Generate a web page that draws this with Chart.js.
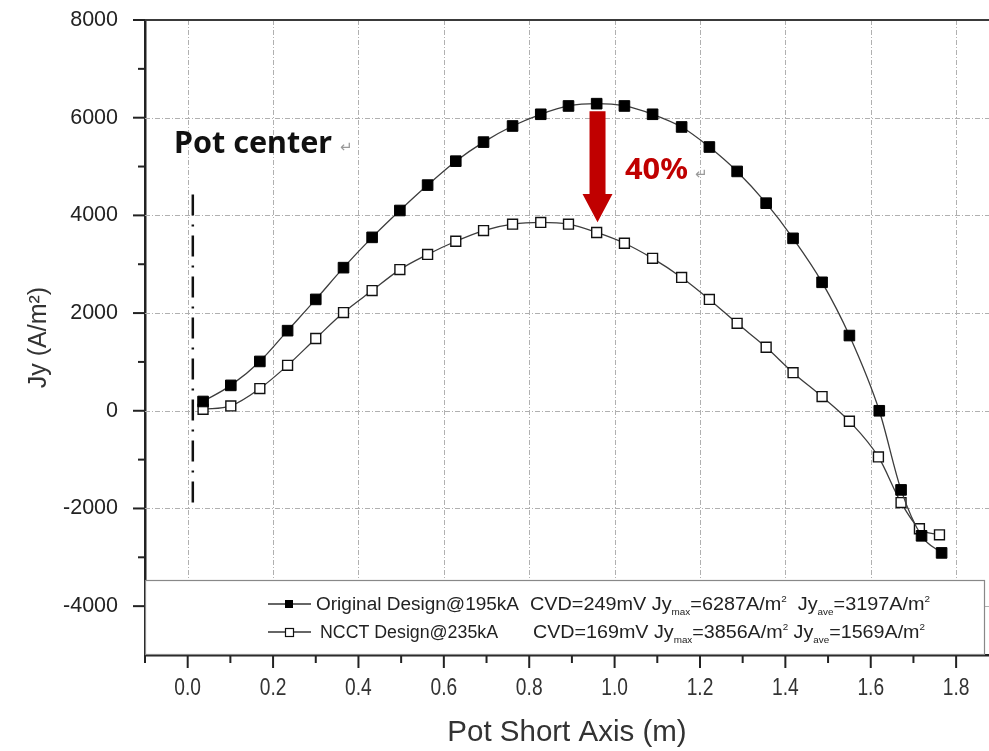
<!DOCTYPE html>
<html><head><meta charset="utf-8">
<script src="https://cdn.jsdelivr.net/npm/chart.js@4.4.1/dist/chart.umd.min.js"></script>
<style>html,body{margin:0;padding:0;background:#fff;overflow:hidden}#wrap{width:989px;height:751px;position:relative}</style>
</head><body><div id="wrap"><canvas id="c" width="989" height="751"></canvas></div>
<script>
// ---- data ----
const originalX  = [0.036,0.101,0.169,0.234,0.300,0.365,0.432,0.497,0.562,0.628,0.693,0.761,0.827,0.892,0.958,1.023,1.089,1.157,1.222,1.287,1.355,1.418,1.486,1.550,1.620,1.671,1.719,1.766];
const originalJy = [190,520,1010,1640,2280,2930,3550,4100,4620,5110,5500,5830,6070,6240,6287,6240,6070,5810,5400,4900,4250,3530,2630,1540,0,-1620,-2560,-2910];
const ncctX      = [0.036,0.101,0.169,0.234,0.300,0.365,0.432,0.497,0.562,0.628,0.693,0.761,0.827,0.892,0.958,1.023,1.089,1.157,1.222,1.287,1.355,1.418,1.486,1.550,1.618,1.671,1.714,1.761];
const ncctJy     = [30,100,455,930,1480,2010,2460,2890,3200,3470,3690,3820,3856,3820,3650,3430,3120,2730,2280,1790,1300,780,290,-215,-945,-1880,-2415,-2540];
const potCenterX  = [0.012,0.012];
const potCenterJy = [4430,-1880];
const arrowX = 0.96;
const arrowJy = [6130, 4440, 3860]; // shaft top, head start, tip
const xTickValues = [0,0.2,0.4,0.6,0.8,1.0,1.2,1.4,1.6,1.8];
const xTickLabels = ['0.0','0.2','0.4','0.6','0.8','1.0','1.2','1.4','1.6','1.8'];
const xMinorTickValues = [-0.1,0.1,0.3,0.5,0.7,0.9,1.1,1.3,1.5,1.7];
const yTickValues = [-4000,-2000,0,2000,4000,6000,8000];
const yMinorTickValues = [-3000,-1000,1000,3000,5000,7000];
const legendNames = ['Original Design@195kA','NCCT Design@235kA'];
const legendCVD   = ['CVD=249mV','CVD=169mV'];
const legendJyMax = ['6287','3856'];
const legendJyAve = ['3197','1569'];

const toPts = (xs, ys) => xs.map((x,i)=>({x:x,y:ys[i]}));

function fitText(ctx, text, x, y, targetW){
  const w = ctx.measureText(text).width;
  ctx.save(); ctx.translate(x,y); ctx.scale(targetW/w,1); ctx.fillText(text,0,0); ctx.restore();
}

const overlay = {
  id:'overlay',
  beforeDatasetsDraw(chart){
    const ctx = chart.ctx, a = chart.chartArea, xs = chart.scales.x, ys = chart.scales.y;
    ctx.save();
    ctx.strokeStyle = '#b0b0b0'; ctx.lineWidth = 1; ctx.setLineDash([5,2,1,2]);
    xTickValues.forEach(v=>{ const p=Math.round(xs.getPixelForValue(v))+0.5; ctx.beginPath(); ctx.moveTo(p,a.top); ctx.lineTo(p,a.bottom); ctx.stroke(); });
    yTickValues.forEach(v=>{ if(v>=ys.max) return; const p=Math.round(ys.getPixelForValue(v))+0.5; ctx.beginPath(); ctx.moveTo(a.left,p); ctx.lineTo(a.right,p); ctx.stroke(); });
    ctx.setLineDash([]);
    // top frame
    ctx.strokeStyle = '#3a3a3a'; ctx.lineWidth = 2;
    ctx.beginPath(); ctx.moveTo(a.left,a.top); ctx.lineTo(a.right,a.top); ctx.stroke();
    // tick marks
    ctx.strokeStyle = '#222'; ctx.lineWidth = 2;
    xTickValues.forEach(v=>{ const p=xs.getPixelForValue(v); ctx.beginPath(); ctx.moveTo(p,a.bottom); ctx.lineTo(p,a.bottom+13); ctx.stroke(); });
    xMinorTickValues.forEach(v=>{ const p=xs.getPixelForValue(v); ctx.beginPath(); ctx.moveTo(p,a.bottom); ctx.lineTo(p,a.bottom+8); ctx.stroke(); });
    yTickValues.forEach(v=>{ const p=ys.getPixelForValue(v); ctx.beginPath(); ctx.moveTo(a.left-12,p); ctx.lineTo(a.left,p); ctx.stroke(); });
    yMinorTickValues.forEach(v=>{ const p=ys.getPixelForValue(v); ctx.beginPath(); ctx.moveTo(a.left-7,p); ctx.lineTo(a.left,p); ctx.stroke(); });
    // x tick labels (narrow)
    ctx.fillStyle = '#333'; ctx.font = '24px "Liberation Sans", Arial, sans-serif';
    ctx.textBaseline = 'middle';
    xTickValues.forEach((v,i)=>{
      const p = xs.getPixelForValue(v); const w = ctx.measureText(xTickLabels[i]).width * 0.8;
      fitText(ctx, xTickLabels[i], p - w/2, a.bottom + 33, w);
    });
    ctx.restore();
  },
  afterDatasetsDraw(chart){
    const ctx = chart.ctx, a = chart.chartArea, xs = chart.scales.x, ys = chart.scales.y;
    ctx.save();
    // legend box
    const bx = a.left, by = 580, bw = 985 - a.left, bh = a.bottom - 580;
    ctx.fillStyle = '#fff'; ctx.fillRect(bx, by, bw, bh);
    ctx.strokeStyle = '#888'; ctx.lineWidth = 1.2; ctx.strokeRect(bx+0.5, by+0.5, bw-1, bh-1);
    const rows = [604, 632];
    const startA = [316, 320], startB = [530, 533], endB = [930, 925];
    rows.forEach((ry,i)=>{
      ctx.strokeStyle = '#333'; ctx.lineWidth = 1.3;
      ctx.beginPath(); ctx.moveTo(268, ry); ctx.lineTo(311, ry); ctx.stroke();
      if(i===0){ ctx.fillStyle='#000'; ctx.fillRect(285, ry-4, 8, 8); }
      else { ctx.fillStyle='#fff'; ctx.fillRect(285, ry-4, 8, 8); ctx.strokeStyle='#111'; ctx.lineWidth=1.2; ctx.strokeRect(285.5, ry-3.5, 8, 8); }
      ctx.fillStyle = '#222'; ctx.textBaseline = 'alphabetic';
      const big = '18px "Liberation Sans", Arial, sans-serif';
      const small = '9px "Liberation Sans", Arial, sans-serif';
      const base = ry + 6;
      ctx.font = big;
      fitText(ctx, legendNames[i], startA[i], base, (i===0?203:178));
      const segs = [
        {t: legendCVD[i] + ' Jy', f: big, dy: 0},
        {t: 'max', f: small, dy: 5},
        {t: '=' + legendJyMax[i] + 'A/m', f: big, dy: 0},
        {t: '2', f: small, dy: -8},
        {t: (i===0?'  Jy':' Jy'), f: big, dy: 0},
        {t: 'ave', f: small, dy: 5},
        {t: '=' + legendJyAve[i] + 'A/m', f: big, dy: 0},
        {t: '2', f: small, dy: -8}
      ];
      let tot = 0; segs.forEach(s=>{ ctx.font = s.f; s.w = ctx.measureText(s.t).width; tot += s.w; });
      const k = (endB[i] - startB[i]) / tot;
      ctx.save(); ctx.translate(startB[i], base); ctx.scale(k, 1);
      let cx = 0; segs.forEach(s=>{ ctx.font = s.f; ctx.fillText(s.t, cx, s.dy); cx += s.w; });
      ctx.restore();
    });
    // red arrow
    const ax = xs.getPixelForValue(arrowX);
    const yTop = ys.getPixelForValue(arrowJy[0]), yHead = ys.getPixelForValue(arrowJy[1]), yTip = ys.getPixelForValue(arrowJy[2]);
    ctx.fillStyle = '#c00000';
    ctx.beginPath();
    ctx.moveTo(ax-8, yTop); ctx.lineTo(ax+8, yTop); ctx.lineTo(ax+8, yHead); ctx.lineTo(ax+15, yHead);
    ctx.lineTo(ax, yTip); ctx.lineTo(ax-15, yHead); ctx.lineTo(ax-8, yHead); ctx.closePath(); ctx.fill();
    // annotations
    ctx.textBaseline = 'alphabetic';
    ctx.fillStyle = '#111'; ctx.font = 'bold 30px "Noto Sans", "Open Sans", sans-serif';
    fitText(ctx, 'Pot center', 174, 153, 158);
    ctx.fillStyle = '#c00000'; ctx.font = 'bold 28px "Noto Sans", "Open Sans", sans-serif';
    fitText(ctx, '40%', 625, 179, 63);
    ctx.fillStyle = '#9a9a9a'; ctx.font = '15px "DejaVu Sans", sans-serif';
    ctx.fillText('\u21B5', 340, 152);
    ctx.fillText('\u21B5', 695, 179);
    ctx.restore();
  }
};

new Chart(document.getElementById('c'), {
  type: 'line',
  data: { datasets: [
    { label: 'Original Design@195kA', data: toPts(originalX, originalJy), borderColor: '#3c3c3c', borderWidth: 1.3,
      pointStyle: 'rect', pointRadius: 7.5, pointBackgroundColor: '#000', pointBorderColor: '#000', pointBorderWidth: 1,
      cubicInterpolationMode: 'monotone', fill: false },
    { label: 'NCCT Design@235kA', data: toPts(ncctX, ncctJy), borderColor: '#3c3c3c', borderWidth: 1.3,
      pointStyle: 'rect', pointRadius: 7, pointBackgroundColor: '#fff', pointBorderColor: '#111', pointBorderWidth: 1.4,
      cubicInterpolationMode: 'monotone', fill: false },
    { label: 'Pot center', data: toPts(potCenterX, potCenterJy), borderColor: '#111', borderWidth: 2.5,
      borderDash: [21,9,2,9], pointRadius: 0, fill: false }
  ]},
  options: {
    responsive: false, animation: false, devicePixelRatio: 1,
    layout: { autoPadding: false, padding: { top: 20, left: 0, right: 0, bottom: 0 } },
    plugins: { legend: { display: false }, tooltip: { enabled: false } },
    scales: {
      x: { type: 'linear', position: 'bottom', min: -0.1, max: 1.877,
        afterFit: s => { s.height = 96; s.paddingLeft = 0; s.paddingRight = 0; },
        afterBuildTicks: s => { s.ticks = xTickValues.map(v=>({value:v})); },
        grid: { display: false, drawTicks: false },
        border: { display: true, color: '#222', width: 2.5 },
        ticks: { display: false },
        title: { display: true, text: 'Pot Short Axis (m)', color: '#333',
          font: { family: '"Liberation Sans", Arial, sans-serif', size: 29.5 }, padding: { top: 0, bottom: 0 } }
      },
      y: { type: 'linear', min: -5000, max: 8000,
        afterFit: s => { s.width = 145; s.paddingTop = 0; s.paddingBottom = 0; },
        afterBuildTicks: s => { s.ticks = yTickValues.map(v=>({value:v})); },
        grid: { display: false, drawTicks: false },
        border: { display: true, color: '#222', width: 2.5 },
        ticks: { padding: 27, color: '#222',
          font: { family: '"Liberation Sans", Arial, sans-serif', size: 21.5 },
          callback: v => String(v) },
        title: { display: true, text: 'Jy (A/m\u00B2)', color: '#333',
          font: { family: '"Liberation Sans", Arial, sans-serif', size: 25 }, padding: { top: 24 } }
      }
    }
  },
  plugins: [overlay]
});
</script></body></html>
